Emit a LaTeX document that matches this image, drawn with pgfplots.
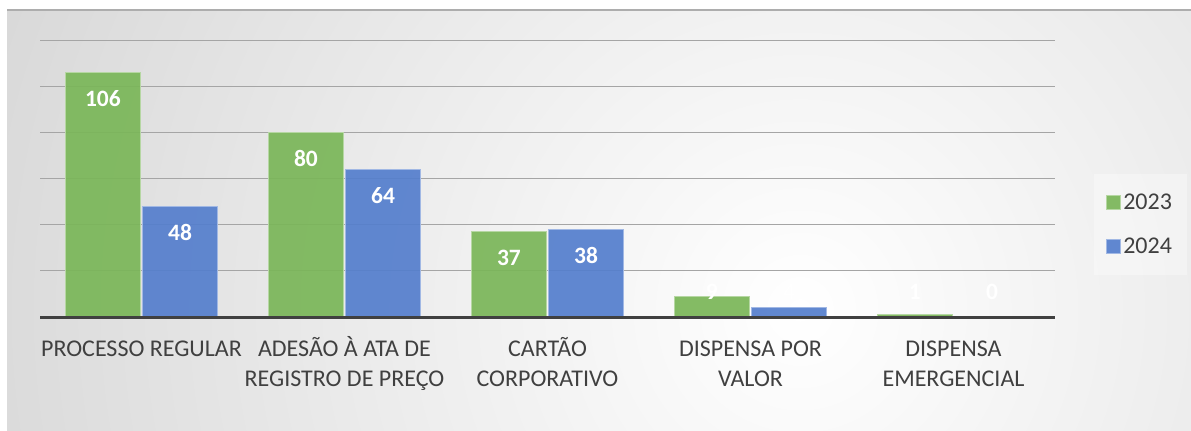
\documentclass[border=0pt]{standalone}
\usepackage{fontspec}
\setmainfont{Carlito}
\usepackage{pgfplots}
\pgfplotsset{compat=1.18}
\definecolor{cgreen}{RGB}{122,182,88}
\definecolor{cblue}{RGB}{84,126,205}
\definecolor{ctext}{RGB}{64,64,64}
\definecolor{cgrid}{RGB}{165,165,165}
\definecolor{cbgout}{RGB}{192,192,192}
\begin{document}
\begin{tikzpicture}[x=1pt,y=1pt]
\useasboundingbox (0pt,0pt) rectangle (893.25pt,322.5pt);
\fill[white] (0pt,0pt) rectangle (893.25pt,322.5pt);
\begin{scope}
\clip (5.25pt,0pt) rectangle (893.25pt,315pt);
\shade[inner color=white, outer color=cbgout] (600pt,90pt) circle (1050pt);
\end{scope}
\draw[cbgout!90!black, line width=0.8pt] (5.25pt,315pt) -- (893.25pt,315pt);
\begin{axis}[
  at={(30pt,84.75pt)}, anchor=south west,
  scale only axis, width=761.25pt, height=207.75pt,
  xmin=-0.5, xmax=4.5, ymin=0, ymax=120,
  ytick={20,40,...,120}, yticklabels={},
  ymajorgrids, grid style={cgrid, line width=0.75pt},
  xtick={0,1,2,3,4},
  xticklabels={{\vphantom{À}PROCESSO REGULAR},{ADESÃO À ATA DE\\REGISTRO DE PREÇO},{\vphantom{À}CARTÃO\\CORPORATIVO},{\vphantom{À}DISPENSA POR\\VALOR},{\vphantom{À}DISPENSA\\EMERGENCIAL}},
  xticklabel style={font=\fontsize{18}{22.5}\selectfont, text=ctext, align=center, anchor=north, inner sep=0pt, yshift=-14.5pt},
  major tick length=0pt,
  axis line style={draw=none},
  clip=false,
  /pgf/number format/assume math mode=true,
  ybar, bar width=0.372,
  visualization depends on={y \as \rawy},
  nodes near coords,
  every node near coord/.append style={font=\fontsize{17.6}{20}\selectfont\bfseries, text=white, text opacity=1, anchor=center, yshift={0.75*max(-26.5,25-2.308*\rawy)}},
  legend style={at={(1,0.334)}, anchor=west, xshift=29.25pt, fill=white, fill opacity=0.35, text opacity=1, draw=none, font=\fontsize{18}{20}\selectfont, text=ctext, row sep=16pt, inner xsep=9pt, inner ysep=13pt},
  legend cell align=left,
  legend image code/.code={\fill[#1] (0pt,-5pt) rectangle (10pt,5pt);},
]
\addplot[fill=cgreen, draw=cgreen!55!white, line width=0.75pt, fill opacity=0.92, bar shift=-0.19] coordinates {(0,106) (1,80) (2,37) (3,9) (4,1)};
\addlegendentry{2023}
\addplot[fill=cblue, draw=cblue!55!white, line width=0.75pt, fill opacity=0.92, bar shift=0.19] coordinates {(0,48) (1,64) (2,38) (3,4) (4,0)};
\addlegendentry{2024}
\draw[ctext, line width=2.25pt] (axis cs:-0.5,0) -- (axis cs:4.5,0);
\end{axis}
\end{tikzpicture}
\end{document}
